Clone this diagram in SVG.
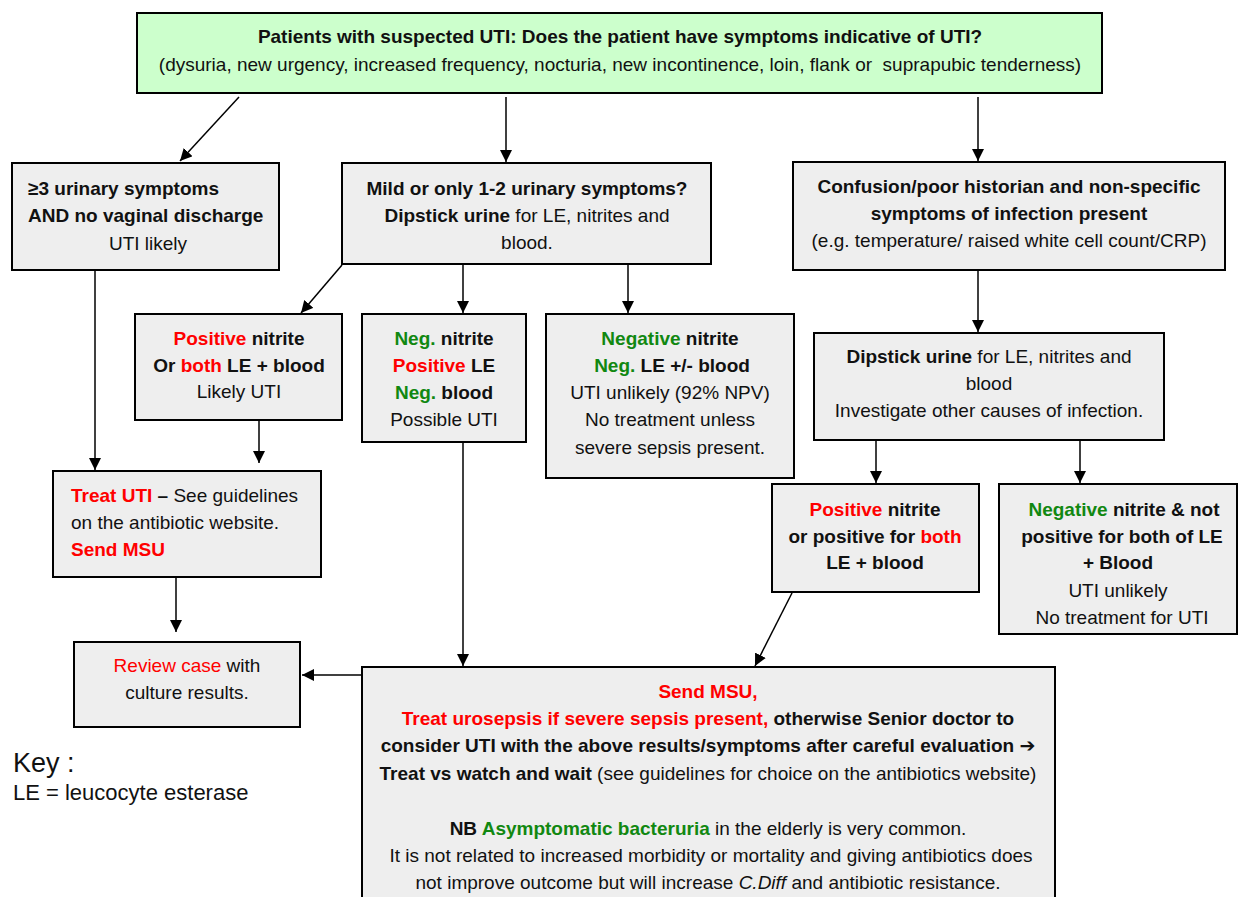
<svg xmlns="http://www.w3.org/2000/svg" width="1238" height="897" viewBox="0 0 1238 897">
<defs>
<marker id="ah" markerWidth="12" markerHeight="12" refX="10" refY="5" orient="auto" markerUnits="userSpaceOnUse" viewBox="0 0 10 10">
<path d="M0,0 L10,5 L0,10 Z" fill="#000"/>
</marker>
</defs>
<style>
.box{fill:#eeeeee;stroke:#000;stroke-width:2}
.top{fill:#ccffcc;stroke:#000;stroke-width:2}
text{font-family:"Liberation Sans",Arial,"DejaVu Sans",sans-serif;font-size:19px;fill:#111}
.c{text-anchor:middle}
.b{font-weight:bold}
.r{fill:#ff0000}
.g{fill:#118811}
.conn{stroke:#000;stroke-width:1.5;fill:none;marker-end:url(#ah)}
</style>
<rect width="1238" height="897" fill="#fff"/>

<g id="connectors">
<line class="conn" x1="239" y1="97" x2="180" y2="161"/>
<line class="conn" x1="506" y1="97" x2="506" y2="162"/>
<line class="conn" x1="978" y1="97" x2="978" y2="161"/>
<line class="conn" x1="342" y1="265" x2="301" y2="313"/>
<line class="conn" x1="463" y1="265" x2="463" y2="313"/>
<line class="conn" x1="628" y1="265" x2="628" y2="313"/>
<line class="conn" x1="95" y1="271" x2="95" y2="470"/>
<line class="conn" x1="259" y1="421" x2="259" y2="463"/>
<line class="conn" x1="463" y1="443" x2="463" y2="666"/>
<line class="conn" x1="792" y1="593" x2="755" y2="666"/>
<line class="conn" x1="978" y1="271" x2="978" y2="332"/>
<line class="conn" x1="876" y1="441" x2="876" y2="483"/>
<line class="conn" x1="1080" y1="441" x2="1080" y2="483"/>
<line class="conn" x1="176" y1="578" x2="176" y2="632"/>
<line class="conn" x1="362" y1="675" x2="302" y2="675"/>
</g>

<g id="n-top">
<rect class="top" x="137" y="13" width="965" height="80"/>
<text class="c b" x="620" y="43">Patients with suspected UTI: Does the patient have symptoms indicative of UTI?</text>
<text class="c" x="620" y="71">(dysuria, new urgency, increased frequency, nocturia, new incontinence, loin, flank or&#160; suprapubic tenderness)</text>
</g>

<g id="n-three">
<rect class="box" x="12" y="163" width="267" height="107"/>
<text class="b" x="28" y="195">≥3 urinary symptoms</text>
<text class="b" x="28" y="222">AND no vaginal discharge</text>
<text class="c" x="148" y="250">UTI likely</text>
</g>

<g id="n-mild">
<rect class="box" x="342" y="163" width="369" height="101"/>
<text class="c b" x="527" y="195">Mild or only 1-2 urinary symptoms?</text>
<text class="c" x="527" y="222"><tspan class="b">Dipstick urine</tspan> for LE, nitrites and</text>
<text class="c" x="527" y="249">blood.</text>
</g>

<g id="n-confusion">
<rect class="box" x="793" y="162" width="432" height="108"/>
<text class="c b" x="1009" y="193">Confusion/poor historian and non-specific</text>
<text class="c b" x="1009" y="220">symptoms of infection present</text>
<text class="c" x="1009" y="247">(e.g. temperature/ raised white cell count/CRP)</text>
</g>

<g id="n-posnit">
<rect class="box" x="135" y="314" width="207" height="106"/>
<text class="c b" x="239" y="345"><tspan class="r">Positive</tspan> nitrite</text>
<text class="c b" x="239" y="372">Or <tspan class="r">both</tspan> LE + blood</text>
<text class="c" x="239" y="398">Likely UTI</text>
</g>

<g id="n-negnit">
<rect class="box" x="362" y="314" width="164" height="128"/>
<text class="c b" x="444" y="345"><tspan class="g">Neg.</tspan> nitrite</text>
<text class="c b" x="444" y="372"><tspan class="r">Positive</tspan> LE</text>
<text class="c b" x="444" y="399"><tspan class="g">Neg.</tspan> blood</text>
<text class="c" x="444" y="426">Possible UTI</text>
</g>

<g id="n-negative">
<rect class="box" x="546" y="314" width="248" height="164"/>
<text class="c b" x="670" y="345"><tspan class="g">Negative</tspan> nitrite</text>
<text class="c b" x="672" y="372"><tspan class="g">Neg.</tspan> LE +/- blood</text>
<text class="c" x="670" y="399">UTI unlikely (92% NPV)</text>
<text class="c" x="670" y="426">No treatment unless</text>
<text class="c" x="670" y="454">severe sepsis present.</text>
</g>

<g id="n-dip2">
<rect class="box" x="814" y="333" width="350" height="107"/>
<text class="c" x="989" y="363"><tspan class="b">Dipstick urine</tspan> for LE, nitrites and</text>
<text class="c" x="989" y="390">blood</text>
<text class="c" x="989" y="417">Investigate other causes of infection.</text>
</g>

<g id="n-treat">
<rect class="box" x="53" y="471" width="268" height="106"/>
<text x="71" y="502"><tspan class="r b">Treat UTI</tspan><tspan class="b"> –</tspan> See guidelines</text>
<text x="71" y="529">on the antibiotic website.</text>
<text class="r b" x="71" y="556">Send MSU</text>
</g>

<g id="n-pos2">
<rect class="box" x="772" y="484" width="207" height="108"/>
<text class="c b" x="875" y="516"><tspan class="r">Positive</tspan> nitrite</text>
<text class="c b" x="875" y="543">or positive for <tspan class="r">both</tspan></text>
<text class="c b" x="875" y="569">LE + blood</text>
</g>

<g id="n-neg2">
<rect class="box" x="999" y="484" width="238" height="150"/>
<text class="c b" x="1124" y="516"><tspan class="g">Negative</tspan> nitrite &amp; not</text>
<text class="c b" x="1122" y="543">positive for both of LE</text>
<text class="c b" x="1118" y="569">+ Blood</text>
<text class="c" x="1118" y="597">UTI unlikely</text>
<text class="c" x="1122" y="624">No treatment for UTI</text>
</g>

<g id="n-review">
<rect class="box" x="74" y="642" width="226" height="85"/>
<text class="c" x="187" y="672"><tspan class="r">Review case</tspan> with</text>
<text class="c" x="187" y="699">culture results.</text>
</g>

<g id="n-msu">
<rect class="box" x="362" y="667" width="693" height="240"/>
<text class="c b r" x="708" y="698">Send MSU,</text>
<text class="c b" x="708" y="725"><tspan class="r">Treat urosepsis if severe sepsis present,</tspan> otherwise Senior doctor to</text>
<text class="c b" x="708" y="752">consider UTI with the above results/symptoms after careful evaluation <tspan style="font-family:'DejaVu Sans',sans-serif">➔</tspan></text>
<text class="c" x="708" y="780"><tspan class="b">Treat vs watch and wait</tspan> (see guidelines for choice on the antibiotics website)</text>
<text class="c" x="708" y="835"><tspan class="b">NB </tspan><tspan class="b g">Asymptomatic bacteruria</tspan> in the elderly is very common.</text>
<text class="c" x="711" y="862">It is not related to increased morbidity or mortality and giving antibiotics does</text>
<text class="c" x="708" y="889">not improve outcome but will increase <tspan font-style="italic">C.Diff</tspan> and antibiotic resistance.</text>
</g>

<g id="key">
<text x="13" y="772" style="font-size:27px">Key :</text>
<text x="13" y="800" style="font-size:22px">LE = leucocyte esterase</text>
</g>
</svg>
